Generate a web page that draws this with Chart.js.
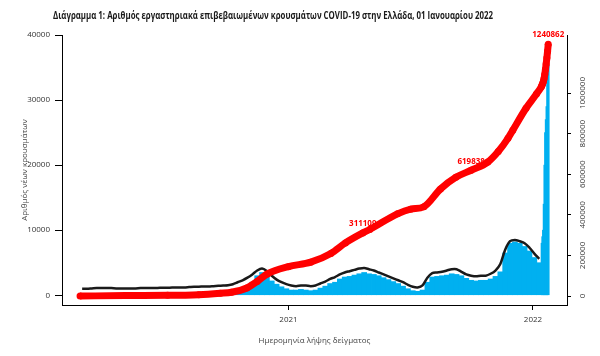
<!DOCTYPE html>
<html>
<head>
<meta charset="utf-8">
<script src="https://cdn.jsdelivr.net/npm/chart.js@4/dist/chart.umd.min.js"></script>
<style>
  html, body { margin: 0; padding: 0; background: #fff; }
  #wrap { width: 600px; height: 356px; }
</style>
</head>
<body>
<div id="wrap"><canvas id="c" width="600" height="356"></canvas></div>
<script>
// ---------- DATA ----------
const titleText = 'Διάγραμμα 1: Αριθμός εργαστηριακά επιβεβαιωμένων κρουσμάτων COVID-19 στην Ελλάδα, 01 Ιανουαρίου 2022';
const xAxisTitle = 'Ημερομηνία λήψης δείγματος';
const yAxisTitle = 'Αριθμός νέων κρουσμάτων';

const firstSampleDate = '2020-02-26';     // day 0 of the x axis
const firstWeekMid = '2020-02-29';        // centre of first weekly bar

// weekly daily-case levels (blue bars), one per week
const weeklyCases = [
  5,15,60,80,90,70,60,40,20,15,
  10,10,10,15,20,20,25,20,25,30,
  30,50,90,150,200,220,200,220,260,300,
  330,350,450,600,1200,2000,3000,3500,3000,2200,
  1700,1300,1000,800,800,900,800,700,800,1100,
  1400,1800,2000,2500,2800,2900,3100,3300,3500,3300,
  3200,3000,2700,2400,2100,1800,1400,1000,700,600,
  800,2000,2800,2900,3000,3100,3300,3200,3000,2600,
  2300,2200,2300,2300,2500,2900,3600,6500,8000,8200,
  8000,7500,6800,5800,5000
];
// black line (daily counts with labels) per week
const weeklyBlack = [
  1000,1000,1050,1100,1100,1100,1100,1050,1050,1050,
  1050,1050,1100,1100,1100,1100,1150,1150,1150,1200,
  1200,1200,1250,1300,1300,1350,1350,1400,1450,1500,
  1550,1700,2000,2300,2700,3200,3800,4100,3700,3000,
  2400,2000,1700,1500,1400,1500,1500,1400,1500,1800,
  2100,2500,2800,3200,3500,3700,3900,4100,4200,4000,
  3800,3500,3200,2900,2600,2300,2000,1600,1300,1200,
  1500,2700,3400,3500,3600,3800,4000,4000,3600,3200,
  3000,2900,3000,3000,3300,3800,4800,7000,8300,8500,
  8300,8000,7300,6400,5600
];
// last days, daily
const lastDays = ['2021-12-22','2021-12-23','2021-12-24','2021-12-25','2021-12-26',
                  '2021-12-27','2021-12-28','2021-12-29','2021-12-30','2021-12-31'];
const lastDaysCases = [8000,9000,10000,14000,20000,25000,27000,29000,33000,35400];

// cumulative cases (red, right axis)
const cumDates = ['2020-02-26','2020-05-01','2020-07-01','2020-08-15','2020-09-15','2020-10-01',
  '2020-10-23','2020-11-07','2020-11-21','2020-12-22','2021-01-23','2021-02-21','2021-03-14',
  '2021-04-08','2021-04-18','2021-05-28','2021-06-16','2021-07-05','2021-07-29','2021-08-20',
  '2021-09-11','2021-10-05','2021-10-20','2021-11-03','2021-11-10','2021-11-29','2021-12-14',
  '2021-12-21','2021-12-22','2021-12-23','2021-12-24','2021-12-25','2021-12-26','2021-12-27',
  '2021-12-28','2021-12-29','2021-12-30','2021-12-31'];
const cumCases = [0,2600,3500,7000,14000,19000,
  40000,72000,108000,145000,167000,210000,262000,
  311109,328000,405000,428000,440000,528000,585000,
  619838,660000,712000,777000,817000,925000,995000,
  1030500,1038500,1047500,1057500,1071500,1091500,1116500,
  1143500,1172500,1205500,1240862];
const cumLabelled = ['2021-04-08','2021-09-11','2021-12-31'];

const leftTicks = [0,10000,20000,30000,40000];
const rightTicks = [0,200000,400000,600000,800000,1000000];
const xTickLabels = ['2021','2022'];
const xTickDays = [300, 652];

// ---------- build ----------
const DAY = 86400000;
const t0 = Date.parse(firstSampleDate);
const dayOf = d => Math.round((Date.parse(d) - t0) / DAY);
const wk0 = dayOf(firstWeekMid);
const weeklyDays = weeklyCases.map((_, k) => wk0 + 7 * k);

const barsWeekly = weeklyCases.map((v, k) => ({x: weeklyDays[k], y: v}));
const barsDaily = lastDaysCases.map((v, i) => ({x: dayOf(lastDays[i]), y: v}));
const blackPts = weeklyBlack.map((v, k) => ({x: weeklyDays[k], y: v}));
const redPts = cumCases.map((v, i) => ({x: dayOf(cumDates[i]), y: v}));
const labelIdx = cumLabelled.map(d => cumDates.indexOf(d));

Chart.defaults.font.family = '"Open Sans", sans-serif';
Chart.defaults.font.size = 8;
Chart.defaults.color = '#333';

const refTitle = {
  id: 'refTitle',
  afterDraw(chart) {
    const ctx = chart.ctx;
    ctx.save();
    ctx.font = 'bold 11px "Open Sans", sans-serif';
    ctx.fillStyle = '#1a1a1a';
    ctx.textAlign = 'center';
    ctx.textBaseline = 'middle';
    ctx.fillText(titleText, 273, 16, 440);
    ctx.restore();
  }
};
const cumLabels = {
  id: 'cumLabels',
  beforeDatasetsDraw(chart) {
    const meta = chart.getDatasetMeta(0);
    const ctx = chart.ctx;
    ctx.save();
    ctx.font = 'bold 8px "Open Sans", sans-serif';
    ctx.fillStyle = '#ff0000';
    ctx.textAlign = 'center';
    ctx.textBaseline = 'middle';
    labelIdx.forEach(i => {
      const p = meta.data[i];
      ctx.fillText(String(cumCases[i]), p.x, p.y - 9);
    });
    ctx.restore();
  }
};

new Chart(document.getElementById('c'), {
  data: {
    datasets: [
      { type: 'line', data: redPts, yAxisID: 'y2', borderColor: '#ff0000', backgroundColor: '#ff0000',
        borderWidth: 7, pointRadius: 3.5, pointBorderWidth: 0, cubicInterpolationMode: 'monotone', order: 0 },
      { type: 'line', data: blackPts, yAxisID: 'y', borderColor: '#1a1a1a', borderWidth: 2.5,
        pointRadius: 0, tension: 0.3, order: 1 },
      { type: 'bar', data: barsWeekly, yAxisID: 'y', backgroundColor: '#00b0f0', barThickness: 5, order: 2 },
      { type: 'bar', data: barsDaily, yAxisID: 'y', backgroundColor: '#00b0f0', barThickness: 2, order: 3 }
    ]
  },
  options: {
    responsive: false,
    animation: false,
    devicePixelRatio: 1,
    layout: { padding: { top: 35, left: 0, right: 0, bottom: 0 } },
    datasets: { bar: { grouped: false } },
    plugins: { legend: { display: false }, tooltip: { enabled: false } },
    scales: {
      x: {
        type: 'linear', min: -26, max: 701, offset: false,
        afterBuildTicks: s => { s.ticks = xTickDays.map(v => ({value: v})); },
        ticks: { callback: (v, i) => xTickLabels[i], padding: 5, maxRotation: 0, autoSkip: false, color: '#333' },
        grid: { drawOnChartArea: false, tickLength: 5, color: '#000', offset: false },
        border: { display: true, color: '#000', width: 1 },
        title: { display: true, text: xAxisTitle, color: '#444', font: { size: 8 }, padding: { top: 0, bottom: 10 } },
        afterFit: s => { s.height = 51; }
      },
      y: {
        position: 'left', min: -1500, max: 40000,
        afterBuildTicks: s => { s.ticks = leftTicks.map(v => ({value: v})); },
        ticks: { callback: v => String(v), padding: 5, color: '#333' },
        grid: { drawOnChartArea: false, tickLength: 7, color: '#000' },
        border: { display: true, color: '#000', width: 1 },
        title: { display: true, text: yAxisTitle, color: '#444', font: { size: 8 }, padding: { top: 20, bottom: 0 } },
        afterFit: s => { s.width = 62; }
      },
      y2: {
        position: 'right', min: -44000, max: 1286000,
        afterBuildTicks: s => { s.ticks = rightTicks.map(v => ({value: v})); },
        ticks: { callback: v => String(v), minRotation: 90, maxRotation: 90, crossAlign: 'center', padding: -4, color: '#333' },
        grid: { drawOnChartArea: false, tickLength: 4, color: '#000' },
        border: { display: true, color: '#000', width: 1 },
        afterFit: s => { s.width = 33; }
      }
    }
  },
  plugins: [refTitle, cumLabels]
});
</script>
</body>
</html>
